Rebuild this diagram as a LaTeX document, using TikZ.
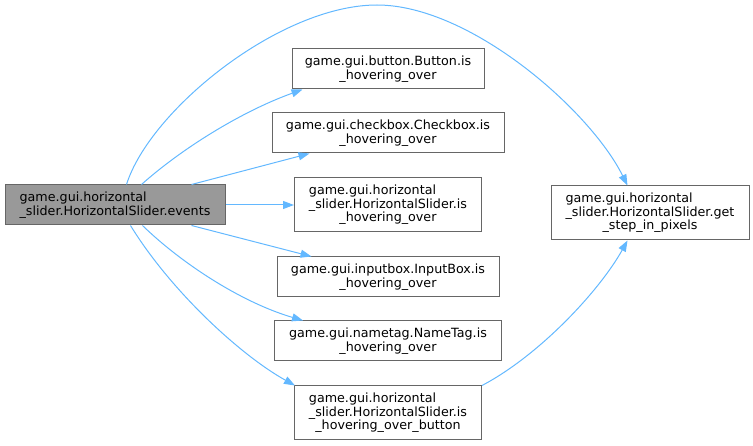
\documentclass[tikz,border=0pt]{standalone}
\usepackage{fontspec}
\setmainfont{DejaVu Sans}
\usetikzlibrary{arrows.meta,calc}
\definecolor{edgeblue}{HTML}{63B8FF}
\definecolor{boxgray}{HTML}{666666}
\definecolor{fillgray}{HTML}{999999}
\newcommand\lbl[2]{\vbox{\baselineskip=13.5pt\lineskiplimit=-10pt\halign{##\cr#1\hfil#2\hfil\cr}}}
\tikzset{
  fn/.style={draw=boxgray, line width=1pt, fill=white, inner sep=0pt, rectangle,
    font=\fontsize{12.7}{13.5}\selectfont},
  cur/.style={fn, fill=fillgray},
  call/.style={draw=edgeblue, line width=1pt, -{Triangle[length=11pt,width=8pt]}}
}
\begin{document}
\begin{tikzpicture}[x=1pt,y=-1pt]
\useasboundingbox (0,0) rectangle (753,446);
\node[cur, minimum width=220pt, minimum height=40pt] (events) at (115,205)
  {\lbl{game.gui.horizontal\hfil\cr}{\_slider.HorizontalSlider.events}};
\node[fn, minimum width=192pt, minimum height=40pt] (button) at (388,69)
  {\lbl{game.gui.button.Button.is\hfil\cr}{\_hovering\_over}};
\node[fn, minimum width=232pt, minimum height=40pt] (checkbox) at (388,133)
  {\lbl{game.gui.checkbox.Checkbox.is\hfil\cr}{\_hovering\_over}};
\node[fn, minimum width=187pt, minimum height=54pt] (hsis) at (388,205)
  {\lbl{game.gui.horizontal\hfil\cr\_slider.HorizontalSlider.is\hfil\cr}{\_hovering\_over}};
\node[fn, minimum width=222pt, minimum height=40pt] (inputbox) at (388,277)
  {\lbl{game.gui.inputbox.InputBox.is\hfil\cr}{\_hovering\_over}};
\node[fn, minimum width=227pt, minimum height=40pt] (nametag) at (388,341)
  {\lbl{game.gui.nametag.NameTag.is\hfil\cr}{\_hovering\_over}};
\node[fn, minimum width=187pt, minimum height=54pt] (hsbtn) at (388,413)
  {\lbl{game.gui.horizontal\hfil\cr\_slider.HorizontalSlider.is\hfil\cr}{\_hovering\_over\_button}};
\node[fn, minimum width=198pt, minimum height=54pt] (getstep) at (650,213)
  {\lbl{game.gui.horizontal\hfil\cr\_slider.HorizontalSlider.get\hfil\cr}{\_step\_in\_pixels}};
% edges
\draw[call] ([xshift=122pt]events.north west) .. controls (150,110) and (280,5) .. (377,5)
  .. controls (470,5) and (590,110) .. ([xshift=77pt]getstep.north west);
\draw[call] ([xshift=137pt]events.north west) .. controls (180,150) and (240,112) .. ([xshift=11pt]button.south west);
\draw[call] ([xshift=187pt]events.north west) -- ([xshift=38pt]checkbox.south west);
\draw[call] (events.east) -- (hsis.west);
\draw[call] ([xshift=187pt]events.south west) -- ([xshift=35pt]inputbox.north west);
\draw[call] ([xshift=138pt]events.south west) .. controls (180,262) and (240,302) .. ([xshift=29pt]nametag.north west);
\draw[call] ([xshift=126pt]events.south west) .. controls (170,290) and (240,355) .. ([xshift=1pt]hsbtn.north west);
\draw[call] (hsbtn.north east) .. controls (540,355) and (600,290) .. ([xshift=77pt]getstep.south west);
\end{tikzpicture}
\end{document}
